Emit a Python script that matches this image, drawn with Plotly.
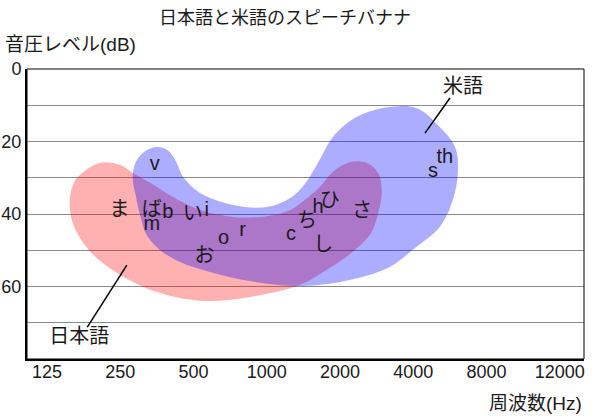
import plotly.graph_objects as go

# Frequency categories (x axis is category index 0..7)
freq_labels = ["125", "250", "500", "1000", "2000", "4000", "8000", "12000"]
db_tick_vals = [0, 10, 20, 30, 40, 50, 60, 70]
db_tick_text = ["0", "", "20", "", "40", "", "60", ""]

# Japanese speech banana outline (frequency index, dB)
jp_x = [0.42, 0.72, 1.00, 1.17, 1.41, 1.72, 2.09, 2.54, 3.00, 3.32, 3.52, 3.72, 3.90, 4.13,
        4.37, 4.52, 4.57, 4.52, 4.43, 4.17, 3.82, 3.45, 2.77, 2.16, 1.54, 1.00, 0.65, 0.45,
        0.34, 0.31, 0.34, 0.42]
jp_db = [29.8, 25.9, 26.5, 28.7, 31.4, 35.3, 38.9, 40.8, 40.6, 38.9, 36.1, 32.6, 28.4, 25.7,
         25.9, 28.7, 34.2, 39.7, 45.0, 50.5, 55.4, 59.6, 62.9, 64.0, 61.8, 56.8, 51.6, 46.6,
         41.7, 37.0, 32.8, 29.8]

# American English speech banana outline
us_x = [1.34, 1.50, 1.64, 1.75, 1.86, 2.09, 2.54, 3.00, 3.32, 3.52, 3.72, 3.90, 4.23, 4.68,
        5.05, 5.36, 5.57, 5.61, 5.54, 5.36, 4.99, 4.68, 4.13, 3.45, 2.77, 2.22, 1.81, 1.54,
        1.36, 1.27, 1.21, 1.17, 1.21, 1.34]
us_db = [22.6, 21.5, 22.3, 25.1, 29.8, 34.2, 37.5, 38.1, 35.6, 31.7, 25.1, 18.8, 13.2, 10.5,
         10.8, 16.0, 21.5, 27.9, 36.1, 43.6, 49.9, 54.6, 58.2, 59.9, 58.5, 56.0, 53.2, 49.9,
         45.8, 40.3, 34.8, 30.1, 25.7, 22.6]

# Phoneme labels
ph_text = ["v", "ま", "ば", "b", "m", "い", "i", "o", "r", "お", "c", "ち", "h", "ひ", "さ", "し", "s", "th"]
ph_x = [1.47, 0.99, 1.43, 1.65, 1.43, 1.99, 2.18, 2.41, 2.67, 2.15, 3.33, 3.55, 3.70, 3.86, 4.30, 3.77, 5.27, 5.43]
ph_db = [26.5, 39.1, 39.1, 39.7, 43.0, 40.3, 39.1, 46.9, 44.7, 51.9, 45.8, 42.2, 38.3, 36.7, 39.4, 48.8, 28.4, 24.6]

# Series labels with leader lines
lang_names = ["米語", "日本語"]
lang_label_x = [5.68, 0.44]
lang_label_db = [5.2, 74.2]
leader_us_x = [5.50, 5.16]
leader_us_db = [8.0, 17.7]
leader_jp_x = [0.55, 1.09]
leader_jp_db = [71.2, 54.1]

FONT = "Liberation Sans, Noto Sans CJK JP, sans-serif"

fig = go.Figure()
fig.add_trace(go.Scatter(x=jp_x, y=jp_db, mode="lines", line=dict(width=0, shape="spline", smoothing=1.0),
                         fill="toself", fillcolor="rgba(255,0,0,0.31)", hoverinfo="skip"))
fig.add_trace(go.Scatter(x=us_x, y=us_db, mode="lines", line=dict(width=0, shape="spline", smoothing=1.0),
                         fill="toself", fillcolor="rgba(0,0,255,0.32)", hoverinfo="skip"))
fig.add_trace(go.Scatter(x=ph_x, y=ph_db, mode="text", text=ph_text,
                         textfont=dict(size=20, color="#1a1a1a", family=FONT), hoverinfo="skip"))
fig.add_trace(go.Scatter(x=leader_us_x, y=leader_us_db, mode="lines", line=dict(color="black", width=1.5)))
fig.add_trace(go.Scatter(x=leader_jp_x, y=leader_jp_db, mode="lines", line=dict(color="black", width=1.5)))
fig.add_trace(go.Scatter(x=lang_label_x, y=lang_label_db, mode="text", text=lang_names,
                         textfont=dict(size=20, color="#1a1a1a", family=FONT)))

fig.update_layout(
    width=600, height=416,
    margin=dict(l=27, r=16, t=69, b=57, autoexpand=False),
    paper_bgcolor="white", plot_bgcolor="white",
    showlegend=False,
    font=dict(family=FONT, color="#1a1a1a"),
    title=dict(text="日本語と米語のスピーチバナナ", x=0.475, xanchor="center", y=0.958, yanchor="middle",
               font=dict(size=18, color="#1a1a1a", family=FONT), automargin=False),
    xaxis=dict(range=[-0.273, 7.33], tickmode="array", tickvals=list(range(len(freq_labels))),
               ticktext=freq_labels, showgrid=False, zeroline=False, automargin=False,
               showline=True, linecolor="black", linewidth=2, ticklabelstandoff=-5,
               tickfont=dict(size=18, color="#1a1a1a"), ticks=""),
    yaxis=dict(range=[80, 0], tickmode="array", tickvals=db_tick_vals, ticktext=db_tick_text,
               showgrid=True, gridcolor="#8a8a8a", gridwidth=1, zeroline=False, automargin=False,
               showline=True, linecolor="black", linewidth=2,
               tickfont=dict(size=18, color="#1a1a1a"), ticks=""),
    shapes=[dict(type="rect", xref="paper", yref="paper", x0=0, y0=0, x1=1, y1=1,
                 line=dict(color="black", width=1), layer="above")],
    annotations=[
        dict(text="音圧レベル(dB)", xref="paper", yref="paper", x=-0.043, y=1.083,
             xanchor="left", yanchor="middle", showarrow=False, font=dict(size=19, family=FONT, color="#1a1a1a")),
        dict(text="周波数(Hz)", xref="paper", yref="paper", x=1.0, y=-0.153,
             xanchor="right", yanchor="middle", showarrow=False, font=dict(size=19, family=FONT, color="#1a1a1a")),
    ],
)

fig.write_html("out.html", config={"displayModeBar": False},
               post_script="document.body.style.margin='0';")
